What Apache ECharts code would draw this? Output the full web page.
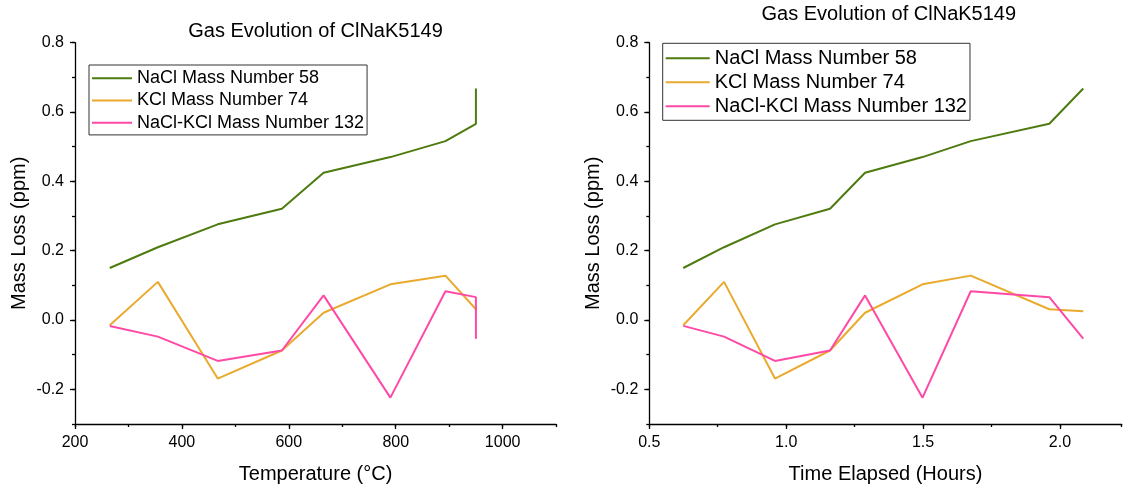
<!DOCTYPE html>
<html>
<head>
<meta charset="utf-8">
<script src="https://cdn.jsdelivr.net/npm/echarts@6/dist/echarts.min.js"></script>
<style>
html,body{margin:0;padding:0;background:#fff;}
#c{width:1124px;height:489px;}
</style>
</head>
<body>
<div id="c"></div>
<script>
// ---- data ----
const temperatureC = [265, 355, 467, 587, 665, 790, 893, 950, 950];
const timeHours = [0.624, 0.773, 0.959, 1.160, 1.288, 1.498, 1.674, 1.961, 2.085];
const naclMass58 = [0.150, 0.210, 0.276, 0.321, 0.425, 0.470, 0.516, 0.566, 0.668];
const kclMass74 = [-0.015, 0.110, -0.169, -0.088, 0.021, 0.103, 0.128, 0.031, 0.025];
const naclKclMass132 = [-0.017, -0.048, -0.118, -0.088, 0.071, -0.224, 0.083, 0.066, -0.054];
const seriesNames = ['NaCl Mass Number 58', 'KCl Mass Number 74', 'NaCl-KCl Mass Number 132'];
const yTickLabels = [-0.2, 0.0, 0.2, 0.4, 0.6, 0.8];
const tempTickLabels = [200, 400, 600, 800, 1000];
const timeTickLabels = [0.5, 1.0, 1.5, 2.0];
const chartTitle = 'Gas Evolution of ClNaK5149';
const xNames = ['Temperature (°C)', 'Time Elapsed (Hours)'];
const yName = 'Mass Loss (ppm)';

const colors = ['#4E7B10', '#E9AA2D', '#FF49A6'];
const FONT = 'Liberation Sans, Arial, sans-serif';
const pair = (xs, ys) => xs.map((x, i) => [x, ys[i]]);
const seriesValues = [naclMass58, kclMass74, naclKclMass132];

const axisLine = {show: true, onZero: false, lineStyle: {color: '#000', width: 1.3}};

function mainX(grid, min, max, labels, name) {
  return {
    type: 'value', gridIndex: grid, min: min, max: max, position: 'bottom',
    axisLine: axisLine,
    axisTick: {show: true, inside: false, length: 5, customValues: labels, lineStyle: {color: '#000', width: 1.3}},
    axisLabel: {customValues: labels, margin: 11, color: '#000', fontSize: 16, fontFamily: FONT,
      formatter: v => (grid === 1 ? v.toFixed(1) : String(v))},
    splitLine: {show: false},
    name: name, nameLocation: 'middle', nameGap: 40,
    nameTextStyle: {color: '#000', fontSize: 20, fontFamily: FONT}
  };
}
function minorX(grid, min, max, interval) {
  return {
    type: 'value', gridIndex: grid, min: min, max: max, interval: interval,
    position: 'bottom', offset: 0,
    axisLine: {show: false, onZero: false},
    axisTick: {show: true, length: 3, lineStyle: {color: '#000', width: 1.3}},
    axisLabel: {show: false}, splitLine: {show: false}
  };
}
function mainY(grid) {
  return {
    type: 'value', gridIndex: grid, min: -0.3, max: 0.8, position: 'left',
    axisLine: axisLine,
    axisTick: {show: true, length: 5, customValues: yTickLabels, lineStyle: {color: '#000', width: 1.3}},
    axisLabel: {customValues: yTickLabels, margin: 11, color: '#000', fontSize: 16, fontFamily: FONT,
      formatter: v => v.toFixed(1)},
    splitLine: {show: false},
    name: yName, nameLocation: 'middle', nameGap: 46, nameRotate: 90,
    nameTextStyle: {color: '#000', fontSize: 20, fontFamily: FONT}
  };
}
function minorY(grid) {
  return {
    type: 'value', gridIndex: grid, min: -0.3, max: 0.8, interval: 0.1,
    position: 'left', offset: 0,
    axisLine: {show: false, onZero: false},
    axisTick: {show: true, length: 3, lineStyle: {color: '#000', width: 1.3}},
    axisLabel: {show: false}, splitLine: {show: false}
  };
}

const series = [];
[temperatureC, timeHours].forEach((xs, g) => {
  seriesValues.forEach((ys, k) => {
    series.push({
      type: 'line', name: seriesNames[k], xAxisIndex: g * 2, yAxisIndex: g * 2,
      data: pair(xs, ys), showSymbol: false, symbol: 'none',
      lineStyle: {color: colors[k], width: 2}, itemStyle: {color: colors[k]},
      animation: false, z: 3 + k
    });
  });
});

const legendBase = (fs, lh) => ({
  orient: 'vertical',
  icon: 'rect', symbolKeepAspect: false,
  itemGap: 0, itemHeight: 2,
  borderColor: '#333', borderWidth: 1, backgroundColor: '#fff',
  textStyle: {color: '#000', fontSize: fs, fontFamily: FONT, lineHeight: lh},
  data: seriesNames
});

const option = {
  animation: false,
  backgroundColor: '#fff',
  color: colors,
  title: [
    {text: chartTitle, left: 315.5, top: 21, textAlign: 'center', padding: 0,
      textStyle: {color: '#000', fontSize: 20, fontWeight: 'normal', fontFamily: FONT}},
    {text: chartTitle, left: 888.8, top: 4, textAlign: 'center', padding: 0,
      textStyle: {color: '#000', fontSize: 20, fontWeight: 'normal', fontFamily: FONT}}
  ],
  grid: [
    {left: 75, top: 42.7, width: 481.1, height: 384, containLabel: false},
    {left: 649.3, top: 42.7, width: 472.4, height: 384, containLabel: false}
  ],
  xAxis: [
    mainX(0, 200, 1100, tempTickLabels, xNames[0]),
    minorX(0, 200, 1100, 100),
    mainX(1, 0.5, 2.2254, timeTickLabels, xNames[1]),
    minorX(1, 0.5, 2.2254, 0.25)
  ],
  yAxis: [mainY(0), minorY(0), mainY(1), minorY(1)],
  legend: [
    Object.assign(legendBase(18, 22.3), {left: 89, top: 65, itemWidth: 40, padding: [2, 3, 1, 3]}),
    Object.assign(legendBase(20, 24), {left: 662.7, top: 43.3, itemWidth: 44, padding: [3, 3, 2, 3]})
  ],
  series: series
};
const chart = echarts.init(document.getElementById('c'), null, {renderer: 'canvas'});
chart.setOption(option);
</script>
</body>
</html>
